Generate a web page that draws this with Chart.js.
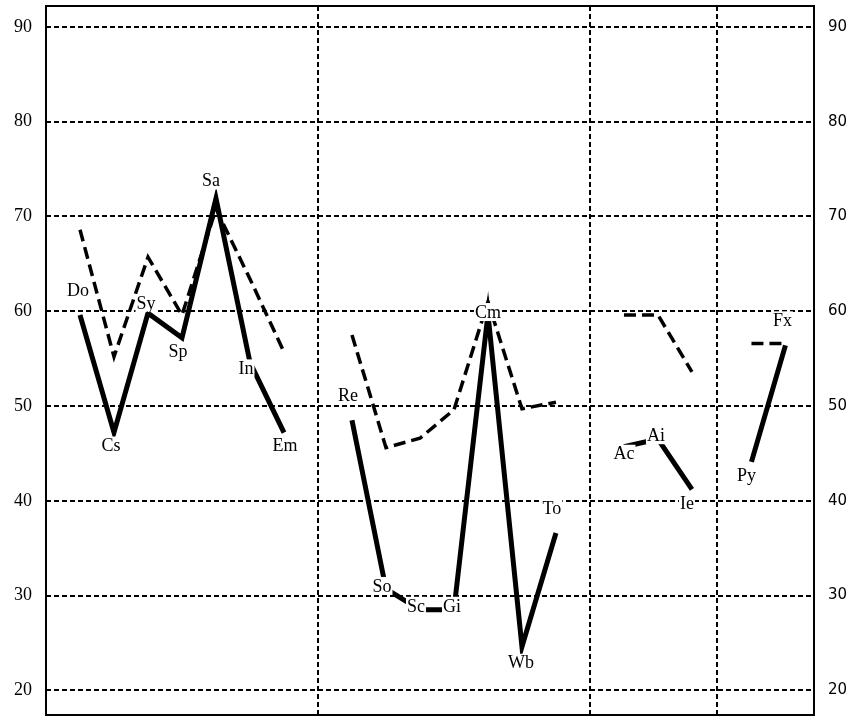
<!DOCTYPE html>
<html>
<head>
<meta charset="utf-8">
<script src="https://cdn.jsdelivr.net/npm/chart.js@4/dist/chart.umd.min.js"></script>
<style>
  html, body { margin: 0; padding: 0; background: #fff; }
</style>
</head>
<body>
<canvas id="chart" width="847" height="718"></canvas>
<script>
// Data
const names = ["Do", "Cs", "Sy", "Sp", "Sa", "In", "Em", "Re", "So", "Sc", "Gi", "Cm", "Wb", "To", "Ac", "Ai", "Ie", "Py", "Fx"];
const groups = [0, 0, 0, 0, 0, 0, 0, 1, 1, 1, 1, 1, 1, 1, 2, 2, 2, 3, 3];
const xPos = [1, 2, 3, 4, 5, 6, 7, 9, 10, 11, 12, 13, 14, 15, 17, 18, 19, 20.75, 21.75];
const solidVals = [59.6, 47.2, 59.8, 57.2, 71.9, 54.6, 47.2, 48.5, 30.7, 28.5, 28.5, 59.7, 24.6, 36.6, 45.7, 46.5, 41.2, 44.1, 56.4];
const dashedVals = [68.6, 55.2, 65.7, 59.6, 70.8, 63.4, 55.7, 57.5, 45.6, 46.6, 49.6, 61.0, 49.7, 50.4, 59.6, 59.6, 53.6, 56.6, 56.6];
const dividers = [8, 16, 19.75];
const yTicks = [20, 30, 40, 50, 60, 70, 80, 90];

// label placement around each point [dx, dy] in px
const labelShift = [[-2, -25], [-3, 13], [-2, -10], [-4, 14], [-5, -18], [-4, 6], [1, 13],
  [-4, -25], [-4, -3], [-4, -4], [-2, -4], [0, -2], [-1, 16], [-4, -25],
  [0, 7], [-2, -4], [-5, 14], [-5, 13], [-3, -25]];

// build {x,y} points with a break between groups
function buildPoints(vals) {
  const pts = [];
  vals.forEach((v, i) => {
    if (i > 0 && groups[i] !== groups[i - 1]) {
      pts.push({ x: dividers[groups[i - 1]], y: null });
    }
    pts.push({ x: xPos[i], y: v });
  });
  return pts;
}

// no extra room for end labels
function noPadding(axis) {
  axis.paddingTop = 0;
  axis.paddingBottom = 0;
  axis.paddingLeft = 0;
  axis.paddingRight = 0;
}

// Frame round the plot area
const framePlugin = {
  id: "frame",
  afterDatasetsDraw(chart) {
    const a = chart.chartArea;
    const ctx = chart.ctx;
    ctx.save();
    ctx.strokeStyle = "#000";
    ctx.lineWidth = 2;
    ctx.setLineDash([]);
    ctx.strokeRect(a.left, a.top, a.right - a.left, a.bottom - a.top);
    ctx.restore();
  }
};

// Point names with white boxes
const labelPlugin = {
  id: "pointNames",
  afterDatasetsDraw(chart) {
    const ctx = chart.ctx;
    const xs = chart.scales.x;
    const ys = chart.scales.y;
    ctx.save();
    ctx.font = "18px 'Liberation Serif', 'Times New Roman', serif";
    ctx.textAlign = "center";
    ctx.textBaseline = "middle";
    names.forEach((name, i) => {
      const px = xs.getPixelForValue(xPos[i]) + labelShift[i][0];
      const py = ys.getPixelForValue(solidVals[i]) + labelShift[i][1];
      const w = ctx.measureText(name).width + 2;
      ctx.fillStyle = "#fff";
      ctx.fillRect(px - w / 2, py - 9, w, 18);
      ctx.fillStyle = "#000";
      ctx.fillText(name, px, py + 1);
    });
    ctx.restore();
  }
};

const chart = new Chart(document.getElementById("chart"), {
  type: "line",
  data: {
    datasets: [
      {
        label: "solid",
        data: buildPoints(solidVals),
        borderColor: "#000",
        borderWidth: 5,
        pointRadius: 0,
        tension: 0,
        spanGaps: false,
        order: 0
      },
      {
        label: "dashed",
        data: buildPoints(dashedVals),
        borderColor: "#000",
        borderWidth: 3.5,
        borderDash: [12, 6],
        pointRadius: 0,
        tension: 0,
        spanGaps: false,
        order: 1
      }
    ]
  },
  options: {
    responsive: false,
    animation: false,
    layout: { padding: { top: 6, bottom: 3, left: 0, right: 0 } },
    plugins: {
      legend: { display: false },
      tooltip: { enabled: false }
    },
    scales: {
      x: {
        type: "linear",
        min: 0,
        max: 22.59,
        afterBuildTicks: (axis) => {
          axis.ticks = dividers.map((v) => ({ value: v }));
        },
        afterFit: (axis) => { axis.height = 0; noPadding(axis); },
        ticks: { display: false },
        grid: {
          color: "#000",
          lineWidth: 2,
          drawTicks: false
        },
        border: { display: false, dash: [5, 3] }
      },
      y: {
        position: "left",
        min: 17.4,
        max: 92.2,
        afterBuildTicks: (axis) => {
          axis.ticks = yTicks.map((v) => ({ value: v }));
        },
        afterFit: (axis) => { axis.width = 46; noPadding(axis); },
        ticks: {
          color: "#000",
          padding: 14,
          font: { family: "'Liberation Serif', 'Times New Roman', serif", size: 18 }
        },
        grid: { color: "#000", lineWidth: 2, drawTicks: false },
        border: { display: false, dash: [5, 3] }
      },
      y2: {
        position: "right",
        min: 17.4,
        max: 92.2,
        afterBuildTicks: (axis) => {
          axis.ticks = yTicks.map((v) => ({ value: v }));
        },
        afterFit: (axis) => { axis.width = 33; noPadding(axis); },
        ticks: {
          color: "#000",
          padding: 14,
          font: { family: "'DejaVu Sans', sans-serif", size: 15 }
        },
        grid: { display: false, drawTicks: false },
        border: { display: false }
      }
    }
  },
  plugins: [framePlugin, labelPlugin]
});
</script>
</body>
</html>
